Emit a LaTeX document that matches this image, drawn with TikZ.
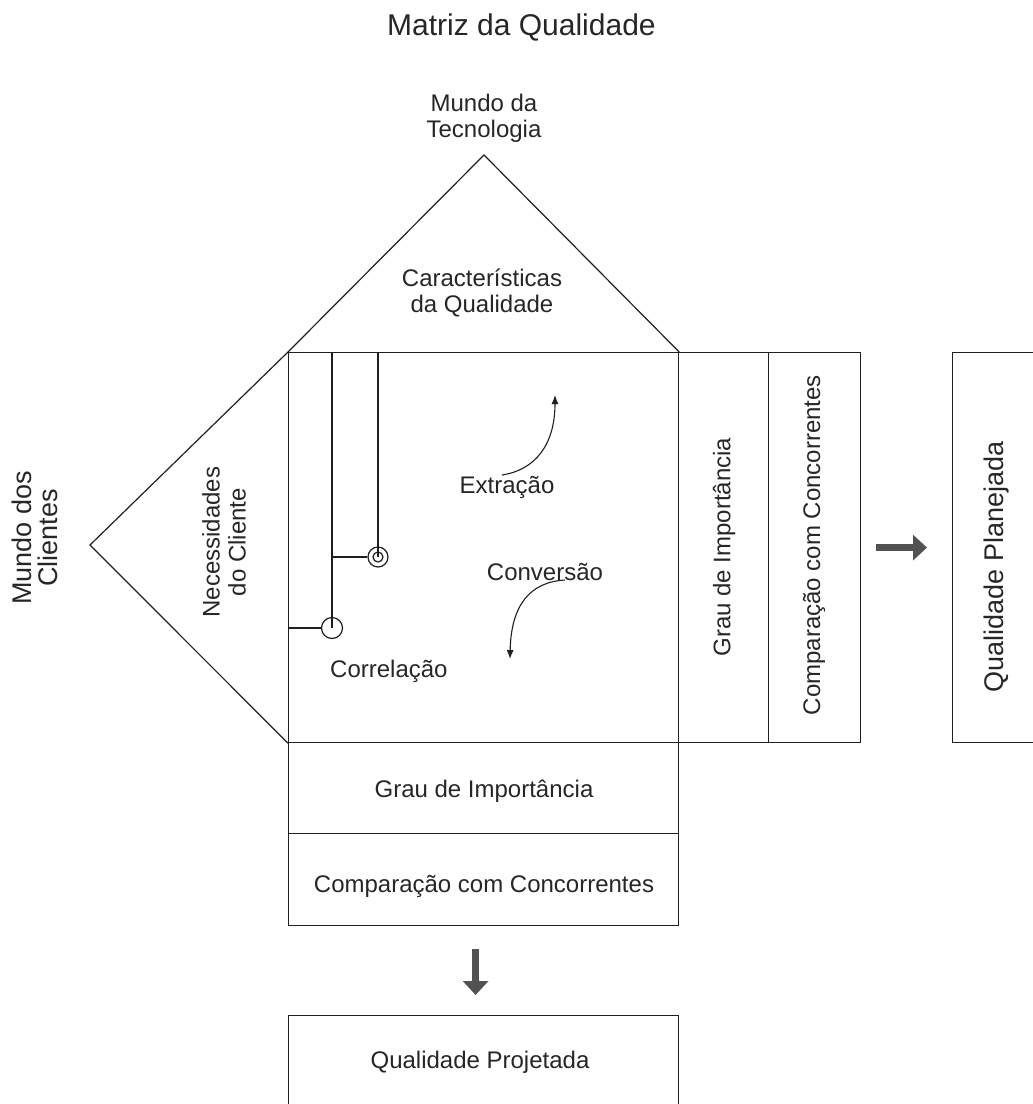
\documentclass[tikz,border=0pt]{standalone}
\usepackage{fontspec}
\setmainfont{Liberation Sans}
\usetikzlibrary{arrows.meta}
\begin{document}
\begin{tikzpicture}[x=1pt,y=-1pt,
  ln/.style={draw=black!88, line width=1.2pt},
  txt/.style={inner sep=0pt, text=black!85, font=\fontsize{24}{26}\selectfont, align=center},
  bigtxt/.style={txt, font=\fontsize{27}{26}\selectfont},
  panel/.style={ln, rectangle, inner sep=0pt, anchor=north west},
  ring/.style={ln, circle, inner sep=0pt},
  flow/.style={ln, line width=1.1pt, -{Latex[length=9pt,width=7pt]}},
  bigarrow/.style={draw=black!68, line width=7pt, -{Triangle[length=14pt,width=25pt]}}
]
\useasboundingbox (0,0) rectangle (1033,1104);

% title
\node[txt, anchor=base west, font=\fontsize{30}{32}\selectfont] (title) at (387,35) {Matriz da Qualidade};

% main matrix and side panels
\node[panel, minimum width=390pt, minimum height=390pt] (main) at (288,352) {};
\node[panel, minimum width=90pt, minimum height=390pt] (colA) at (678,352) {};
\node[panel, minimum width=92pt, minimum height=390pt] (colB) at (768,352) {};
\node[panel, minimum width=390pt, minimum height=91pt] (rowA) at (288,742) {};
\node[panel, minimum width=390pt, minimum height=92pt] (rowB) at (288,833) {};
\node[panel, minimum width=110pt, minimum height=390pt] (plan) at (952,352) {};
\node[panel, minimum width=390pt, minimum height=120pt] (proj) at (288,1015) {};

% roof and left wall
\coordinate (apexT) at (484,155);
\coordinate (apexL) at (90,545);
\draw[ln] (main.north west) -- (apexT) -- (main.north east);
\draw[ln] (main.north west) -- (apexL) -- (main.south west);

% correlation lines and symbols
\coordinate (vA) at (332,352);
\coordinate (vB) at (378,352);
\node[ring, minimum size=21pt] (cA) at (332,628) {};
\node[ring, minimum size=20pt] (cB) at (378,557) {};
\node[ring, minimum size=10pt] (cBi) at (378,557) {};
\draw[ln] (vA) -- (cA.center);
\draw[ln] (main.west |- cA) -- (cA.west);
\draw[ln] (vB) -- (cB.center);
\draw[ln] (vA |- cB) -- (cB.west);

% curved arrows
\coordinate (exS) at (502,475);
\coordinate (exE) at (555,395);
\draw[flow] (exS) .. controls (535,470) and (555,445) .. (exE);
\coordinate (cvS) at (565,580);
\coordinate (cvE) at (510,659);
\draw[flow] (cvS) .. controls (530,582) and (511,605) .. (cvE);

% labels
\node[txt] (tec) at (484,118) {Mundo da\\Tecnologia};
\node[txt] (car) at (482,293) {Características\\da Qualidade};
\node[bigtxt, rotate=90] (cli) at (35,538) {Mundo dos\\Clientes};
\node[txt, rotate=90] (nec) at (224,542) {Necessidades\\do Cliente};
\node[txt, rotate=90] (grauV) at (724,547) {Grau de Importância};
\node[txt, rotate=90] (compV) at (814,545) {Comparação com Concorrentes};
\node[bigtxt, rotate=90] (planT) at (997,567) {Qualidade Planejada};
\node[txt, anchor=base] (ext) at (507,493) {Extração};
\node[txt, anchor=base] (conv) at (545,580) {Conversão};
\node[txt, anchor=base west] (corr) at (330,677) {Correlação};
\node[txt, anchor=base] (grauH) at (484,797) {Grau de Importância};
\node[txt, anchor=base] (compH) at (484,892) {Comparação com Concorrentes};
\node[txt, anchor=base] (projT) at (480,1068) {Qualidade Projetada};

% output arrows
\draw[bigarrow, shorten <=15pt, shorten >=25pt] (colB.east) -- (plan.west);
\draw[bigarrow, shorten <=23pt, shorten >=20pt] ([xshift=-8pt]rowB.south) -- ([xshift=-8pt]proj.north);
\end{tikzpicture}
\end{document}
